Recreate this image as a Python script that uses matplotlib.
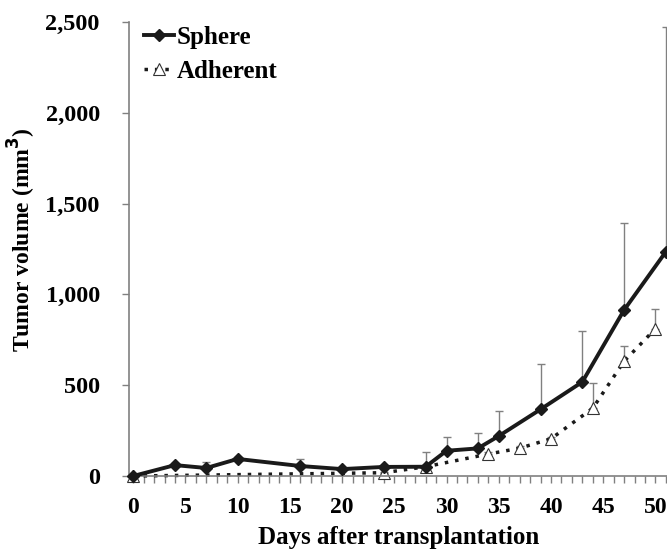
import numpy as np
import matplotlib
matplotlib.use("Agg")
import matplotlib.pyplot as plt

plt.rcParams['font.family'] = ['Liberation Serif', 'DejaVu Serif']
plt.rcParams['font.weight'] = 'bold'

# Sphere group
sphere_days = [0, 4, 7, 10, 16, 20, 24, 28, 30, 33, 35, 39, 43, 47, 51]
sphere_vol = [0, 60, 44, 94, 55, 38, 50, 51, 139, 152, 220, 367, 518, 914, 1235]
sphere_err = [0, 10, 35, 8, 37, 5, 8, 83, 74, 86, 140, 248, 282, 477, 1240]

# Adherent group
adh_days = [0, 24, 28, 34, 37, 40, 44, 47, 50]
adh_vol = [0, 18, 51, 121, 153, 205, 373, 632, 811]
adh_err = [0, 5, 10, 10, 10, 10, 137, 84, 107]

gray = '#808080'

fig = plt.figure(figsize=(6.67, 5.53), dpi=100)
ax = fig.add_axes([129/667, 77/553, 540/667, 454/553])

ax.errorbar(sphere_days, sphere_vol, yerr=[np.zeros(len(sphere_err)), sphere_err],
            fmt='none', ecolor=gray, elinewidth=1, capsize=3, capthick=1, zorder=1)
ax.errorbar(adh_days, adh_vol, yerr=[np.zeros(len(adh_err)), adh_err],
            fmt='none', ecolor=gray, elinewidth=1, capsize=3, capthick=1, zorder=1)

ax.plot(sphere_days, sphere_vol, color='#1a1a1a', lw=2.8, marker='D', ms=6,
        label='Sphere', zorder=3, clip_on=False)
ax.plot(adh_days, adh_vol, color='#1a1a1a', lw=2.5, ls=(0, (1, 2)), marker='^',
        ms=9, mfc='white', mec='#333333', mew=0.8, label='Adherent', zorder=2,
        clip_on=False)

ax.set_xlim(-0.4, 51.3)
ax.set_ylim(0, 2500)
ax.set_xticks(np.arange(0, 51, 5))
ax.set_xticks(np.arange(0, 52, 1), minor=True)
ax.set_yticks(np.arange(0, 2501, 500))
ax.set_yticklabels(['0', '500', '1,000', '1,500', '2,000', '2,500'])

for s in ['top', 'right']:
    ax.spines[s].set_visible(False)
for s in ['left', 'bottom']:
    ax.spines[s].set_color(gray)
    ax.spines[s].set_linewidth(1.2)

ax.tick_params(axis='y', which='major', color=gray, length=5, width=1,
               labelsize=17.5, pad=16)
ax.tick_params(axis='x', which='major', color=gray, length=5, width=1,
               labelsize=17, pad=10)
ax.tick_params(axis='x', which='minor', color=gray, length=5, width=1)

ax.set_xlabel('Days after transplantation', fontsize=18, fontweight='bold', labelpad=6)
ax.set_ylabel('Tumor volume (mm$^\\mathbf{3}$)', fontsize=17, fontweight='bold')
ax.yaxis.set_label_coords(-0.169, 0.52)

ax.legend(loc='upper left', frameon=False, fontsize=18, handlelength=1.2,
          handletextpad=0.1, labelspacing=0.45, borderaxespad=0.2,
          bbox_to_anchor=(0.0, 1.025))

fig.savefig('out.png', dpi=100)
